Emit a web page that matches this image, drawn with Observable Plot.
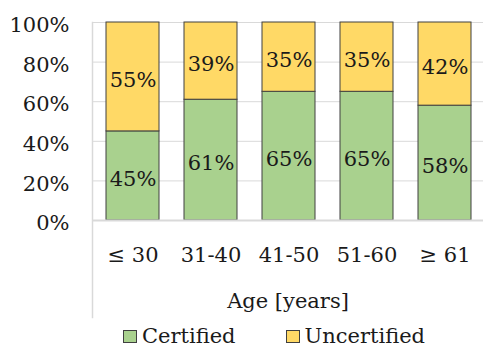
<!DOCTYPE html>
<html>
<head>
<meta charset="utf-8">
<script src="https://cdn.jsdelivr.net/npm/d3@7"></script>
<script src="https://cdn.jsdelivr.net/npm/@observablehq/plot@0.6"></script>
<style>
  html, body { margin: 0; padding: 0; background: #fff; }
  #chart { width: 483px; height: 350px; overflow: hidden; font-family: 'DejaVu Serif', serif; }
  .legend { display: flex; align-items: center; height: 28px; padding-left: 123px; font-size: 21px; color: #1a1a1a; font-family: 'DejaVu Serif', serif; }
  .legend .item { display: flex; align-items: center; }
  .legend .sw { width: 14px; height: 13px; border: 1px solid #404040; box-sizing: border-box; margin-right: 5px; }
  .legend .item + .item { margin-left: 50px; }
</style>
</head>
<body>
<div id="chart"></div>
<script>
const categories = ["≤ 30", "31-40", "41-50", "51-60", "≥ 61"];
const certified = [45, 61, 65, 65, 58];
const uncertified = [55, 39, 35, 35, 42];
const seriesNames = ["Certified", "Uncertified"];
const seriesColors = ["#a9d18e", "#ffd966"];
const yTicks = [0, 0.2, 0.4, 0.6, 0.8, 1];
const xTitle = "Age [years]";
const serifFont = "DejaVu Serif, serif";

const rows = categories.flatMap((c, i) => [
  {age: c, status: seriesNames[0], y1: 0, y2: certified[i] / 100, v: certified[i]},
  {age: c, status: seriesNames[1], y1: certified[i] / 100, y2: (certified[i] + uncertified[i]) / 100, v: uncertified[i]}
]);

const plot = Plot.plot({
  width: 483,
  height: 322,
  marginLeft: 92,
  marginRight: 0,
  marginTop: 22,
  marginBottom: 5,
  style: {fontFamily: serifFont, fontSize: "21px", color: "#1a1a1a", background: "#fff"},
  x: {domain: categories, range: [92, 486], paddingInner: 0.315, paddingOuter: 0.1575, axis: null},
  y: {domain: [0, 1], range: [220, 22], axis: null},
  color: {domain: seriesNames, range: seriesColors},
  marks: [
    Plot.ruleY(yTicks.slice(1), {stroke: "#d9d9d9", strokeWidth: 1}),
    Plot.frame({anchor: "left", stroke: "#d9d9d9", strokeWidth: 1.5}),
    Plot.barY(rows, {x: "age", y1: "y1", y2: "y2", fill: "status", stroke: "#404040", strokeWidth: 1}),
    Plot.ruleY([0], {stroke: "#d9d9d9", strokeWidth: 2}),
    Plot.axisY({ticks: yTicks, tickFormat: d3.format(".0%"), tickSize: 0, tickPadding: 23, fontSize: 21, fontFamily: serifFont, dy: 3, label: null, fill: "#1a1a1a"}),
    Plot.text(rows, {x: "age", y: d => (d.y1 + d.y2) / 2, text: d => d.v + "%", fontSize: 21, fontFamily: serifFont, dy: 3.5, fill: "#1a1a1a"}),
    Plot.text(categories, {x: d => d, y: () => 0, dy: 35, fontSize: 21, fontFamily: serifFont, fill: "#1a1a1a"}),
    Plot.text([xTitle], {y: () => 0, dy: 81, frameAnchor: "middle", fontSize: 21, fontFamily: serifFont, fill: "#1a1a1a"})
  ]
});

const root = document.getElementById("chart");
root.appendChild(plot);

const legend = document.createElement("div");
legend.className = "legend";
seriesNames.forEach((name, i) => {
  const item = document.createElement("div");
  item.className = "item";
  const sw = document.createElement("span");
  sw.className = "sw";
  sw.style.background = seriesColors[i];
  const label = document.createElement("span");
  label.textContent = name;
  item.appendChild(sw);
  item.appendChild(label);
  legend.appendChild(item);
});
root.appendChild(legend);
</script>
</body>
</html>
